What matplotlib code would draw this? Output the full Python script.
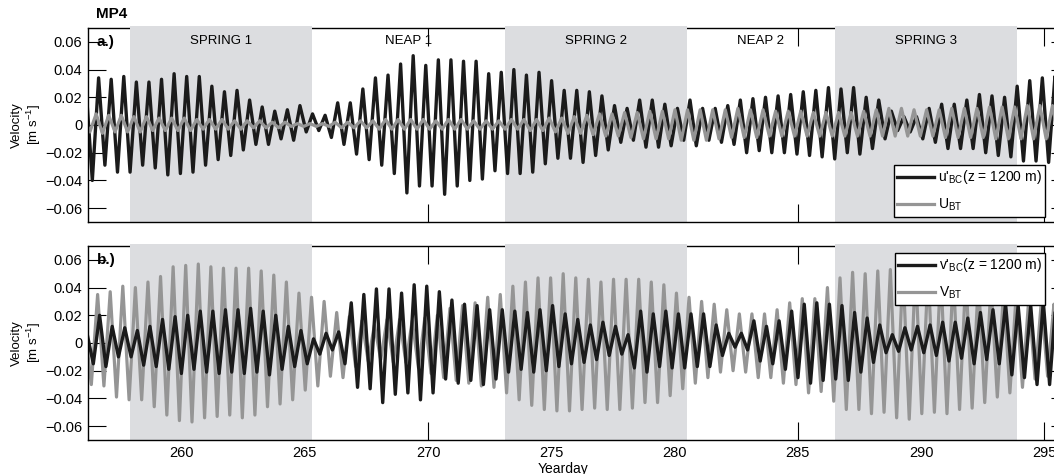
import matplotlib
matplotlib.use('Agg')
import matplotlib.pyplot as plt

plt.rcParams['font.family'] = ['Liberation Sans', 'DejaVu Sans']
plt.rcParams['mathtext.fontset'] = 'custom'
plt.rcParams['mathtext.rm'] = 'Liberation Sans'
plt.rcParams['mathtext.it'] = 'Liberation Sans:italic'

# semidiurnal carrier, in days; one peak and one trough per cycle
PERIOD = 0.5105

# spring / neap periods (yearday)
spring_start = [257.9, 273.1, 286.5]
spring_end = [265.3, 280.5, 293.9]
spring_names = ['SPRING 1', 'SPRING 2', 'SPRING 3']
neap_names = ['NEAP 1', 'NEAP 2']

xticks = [260, 265, 270, 275, 280, 285, 290, 295]
yticks = [-0.06, -0.04, -0.02, 0, 0.02, 0.04, 0.06]
ytick_labels = ['\u22120.06', '\u22120.04', '\u22120.02', '0', '0.02', '0.04', '0.06']

# a.) u'_BC (z = 1200 m), first peak time and per-cycle extremes [m/s]
t0_u_bc = 256.12
u_bc_peaks = [
    0.027, 0.034, 0.033, 0.035, 0.031, 0.031, 0.033, 0.037, 0.035, 0.035,
    0.028, 0.024, 0.025, 0.018, 0.013, 0.010, 0.011, 0.014, 0.008, 0.007,
    0.016, 0.016, 0.026, 0.034, 0.036, 0.044, 0.050, 0.043, 0.047, 0.047,
    0.046, 0.046, 0.037, 0.038, 0.040, 0.036, 0.038, 0.032, 0.025, 0.025,
    0.024, 0.021, 0.014, 0.012, 0.018, 0.018, 0.015, 0.012, 0.018, 0.012,
    0.012, 0.014, 0.018, 0.019, 0.020, 0.021, 0.022, 0.024, 0.025, 0.027,
    0.026, 0.027, 0.020, 0.018, 0.010, 0.006, 0.006, 0.012, 0.015, 0.015,
    0.018, 0.022, 0.021, 0.020, 0.028, 0.032, 0.034, 0.035]
u_bc_troughs = [
    -0.040, -0.029, -0.034, -0.034, -0.029, -0.031, -0.036, -0.035, -0.034, -0.029,
    -0.025, -0.022, -0.018, -0.014, -0.014, -0.010, -0.011, -0.005, -0.004, -0.009,
    -0.014, -0.021, -0.025, -0.029, -0.035, -0.049, -0.044, -0.044, -0.050, -0.044,
    -0.040, -0.039, -0.033, -0.035, -0.035, -0.034, -0.028, -0.024, -0.024, -0.027,
    -0.022, -0.018, -0.0125, -0.011, -0.016, -0.016, -0.015, -0.011, -0.015, -0.011,
    -0.0125, -0.014, -0.020, -0.0185, -0.020, -0.020, -0.021, -0.022, -0.023, -0.0245,
    -0.020, -0.021, -0.017, -0.010, -0.004, -0.005, -0.010, -0.0125, -0.017, -0.017,
    -0.017, -0.020, -0.022, -0.023, -0.026, -0.026, -0.027, -0.030]

# a.) U_BT
t0_u_bt = 256.02
u_bt_peaks = [
    0.006, 0.008, 0.007, 0.007, 0.006, 0.006, 0.005, 0.005, 0.005, 0.004,
    0.004, 0.004, 0.003, 0.003, 0.003, 0.002, 0.002, 0.001, 0.001, 0.001,
    0.002, 0.002, 0.003, 0.003, 0.004, 0.004, 0.004, 0.004, 0.003, 0.004,
    0.004, 0.003, 0.003, 0.003, 0.004, 0.004, 0.004, 0.005, 0.005, 0.006,
    0.007, 0.008, 0.008, 0.009, 0.009, 0.010, 0.010, 0.011, 0.011, 0.011,
    0.011, 0.011, 0.012, 0.011, 0.011, 0.010, 0.010, 0.010, 0.009, 0.009,
    0.009, 0.009, 0.010, 0.011, 0.012, 0.012, 0.011, 0.011, 0.011, 0.012,
    0.012, 0.012, 0.013, 0.013, 0.013, 0.014, 0.014, 0.014]
u_bt_troughs = [
    -0.005, -0.006, -0.005, -0.005, -0.005, -0.004, -0.004, -0.004, -0.004, -0.003,
    -0.003, -0.003, -0.003, -0.002, -0.002, -0.002, -0.001, -0.001, -0.001, -0.001,
    -0.002, -0.002, -0.002, -0.003, -0.003, -0.003, -0.003, -0.003, -0.003, -0.003,
    -0.003, -0.003, -0.003, -0.003, -0.003, -0.004, -0.004, -0.005, -0.006, -0.006,
    -0.007, -0.008, -0.008, -0.009, -0.010, -0.010, -0.010, -0.011, -0.011, -0.011,
    -0.010, -0.009, -0.009, -0.009, -0.008, -0.008, -0.008, -0.008, -0.008, -0.008,
    -0.008, -0.008, -0.008, -0.008, -0.008, -0.008, -0.008, -0.008, -0.009, -0.009,
    -0.009, -0.009, -0.010, -0.010, -0.010, -0.010, -0.010, -0.010]

# b.) v'_BC (z = 1200 m)
t0_v_bc = 256.16
v_bc_peaks = [
    0.007, 0.020, 0.012, 0.011, 0.009, 0.012, 0.017, 0.019, 0.020, 0.023,
    0.023, 0.024, 0.024, 0.025, 0.023, 0.020, 0.012, 0.009, 0.003, 0.007,
    0.008, 0.029, 0.035, 0.039, 0.039, 0.036, 0.042, 0.041, 0.037, 0.031,
    0.028, 0.027, 0.024, 0.024, 0.023, 0.022, 0.024, 0.027, 0.021, 0.017,
    0.013, 0.015, 0.012, 0.006, 0.023, 0.021, 0.023, 0.021, 0.021, 0.021,
    0.013, 0.007, 0.007, 0.016, 0.012, 0.016, 0.023, 0.028, 0.029, 0.028,
    0.027, 0.022, 0.018, 0.013, 0.006, 0.011, 0.012, 0.013, 0.015, 0.015,
    0.018, 0.022, 0.024, 0.028, 0.027, 0.027, 0.030, 0.030]
v_bc_troughs = [
    -0.015, -0.017, -0.010, -0.010, -0.016, -0.017, -0.019, -0.022, -0.019, -0.021,
    -0.022, -0.021, -0.022, -0.021, -0.023, -0.019, -0.017, -0.015, -0.008, -0.005,
    -0.015, -0.032, -0.033, -0.043, -0.037, -0.036, -0.041, -0.036, -0.026, -0.029,
    -0.027, -0.030, -0.026, -0.021, -0.019, -0.021, -0.020, -0.017, -0.015, -0.014,
    -0.012, -0.009, -0.008, -0.018, -0.021, -0.017, -0.018, -0.018, -0.017, -0.017,
    -0.009, -0.003, -0.005, -0.013, -0.015, -0.019, -0.025, -0.029, -0.027, -0.026,
    -0.027, -0.021, -0.014, -0.007, -0.006, -0.005, -0.007, -0.009, -0.013, -0.011,
    -0.015, -0.012, -0.015, -0.023, -0.025, -0.030, -0.030, -0.030]

# b.) V_BT
t0_v_bt = 256.08
v_bt_peaks = [
    0.010, 0.035, 0.037, 0.041, 0.040, 0.044, 0.048, 0.055, 0.056, 0.057,
    0.055, 0.054, 0.054, 0.054, 0.052, 0.049, 0.044, 0.036, 0.033, 0.030,
    0.022, 0.019, 0.016, 0.013, 0.017, 0.017, 0.016, 0.018, 0.020, 0.025,
    0.027, 0.029, 0.033, 0.035, 0.041, 0.044, 0.047, 0.047, 0.050, 0.047,
    0.046, 0.044, 0.046, 0.046, 0.046, 0.044, 0.042, 0.036, 0.033, 0.030,
    0.028, 0.024, 0.021, 0.021, 0.021, 0.024, 0.029, 0.032, 0.032, 0.040,
    0.047, 0.051, 0.050, 0.052, 0.053, 0.054, 0.054, 0.053, 0.052, 0.050,
    0.048, 0.046, 0.042, 0.038, 0.035, 0.032, 0.030, 0.028]
v_bt_troughs = [
    -0.030, -0.031, -0.039, -0.041, -0.041, -0.046, -0.052, -0.056, -0.057, -0.054,
    -0.053, -0.052, -0.054, -0.052, -0.046, -0.044, -0.041, -0.034, -0.031, -0.024,
    -0.025, -0.017, -0.013, -0.012, -0.014, -0.014, -0.018, -0.022, -0.025, -0.027,
    -0.029, -0.031, -0.032, -0.036, -0.041, -0.045, -0.048, -0.049, -0.049, -0.048,
    -0.047, -0.048, -0.048, -0.047, -0.043, -0.043, -0.038, -0.033, -0.029, -0.025,
    -0.021, -0.020, -0.021, -0.025, -0.025, -0.029, -0.030, -0.036, -0.035, -0.042,
    -0.048, -0.048, -0.051, -0.050, -0.054, -0.055, -0.051, -0.050, -0.051, -0.048,
    -0.047, -0.043, -0.039, -0.036, -0.032, -0.026, -0.024, -0.024]

BLACK = '#1b1b1b'
GREY = '#959595'
SHADE = '#dcdde0'


def extremes_to_line(t0, peaks, troughs):
    # one peak then one trough per semidiurnal cycle
    t, v = [], []
    for k in range(len(peaks)):
        t += [t0 + k * PERIOD, t0 + (k + 0.5) * PERIOD]
        v += [peaks[k], troughs[k]]
    return t, v


def setup_axes(ax):
    ax.set_xlim(256.2, 296.0)
    ax.set_ylim(-0.07, 0.07)
    ax.set_xticks(xticks)
    ax.set_yticks(yticks, ytick_labels)
    ax.set_axisbelow(True)
    ax.tick_params(direction='in', length=13, width=0.8, top=True, right=True,
                   labelsize=10.5, pad=4)
    for side in ax.spines:
        ax.spines[side].set_linewidth(1.0)
    ax.spines['top'].set_zorder(0.6)
    for s0, s1 in zip(spring_start, spring_end):
        ax.axvspan(s0, s1, ymin=0, ymax=1.012, color=SHADE, lw=0, zorder=1, clip_on=False)
    ax.set_ylabel('Velocity\n[m s$^{-1}$]', fontsize=9.5, linespacing=1.15)
    ax.yaxis.set_label_coords(-0.046, 0.5)


fig = plt.figure(figsize=(10.54, 4.74), dpi=100)
left = 88 / 1054
width = 981 / 1054
height = 194 / 474
ax_a = fig.add_axes([left, 1 - 222 / 474, width, height])
ax_b = fig.add_axes([left, 1 - 440 / 474, width, height])

# ---- a.) east-west
setup_axes(ax_a)
ax_a.tick_params(labelbottom=False)
t, v = extremes_to_line(t0_u_bc, u_bc_peaks, u_bc_troughs)
l1, = ax_a.plot(t, v, color=BLACK, lw=2.4, zorder=2, solid_joinstyle='round',
                label="u'$_{\\mathrm{BC}}$(z = 1200 m)")
t, v = extremes_to_line(t0_u_bt, u_bt_peaks, u_bt_troughs)
l2, = ax_a.plot(t, v, color=GREY, lw=2.3, zorder=2.1, solid_joinstyle='round',
                label='U$_{\\mathrm{BT}}$')

for name, s0, s1 in zip(spring_names, spring_start, spring_end):
    ax_a.text((s0 + s1) / 2, 0.0605, name, ha='center', va='center', fontsize=9.5, zorder=3)
for k, name in enumerate(neap_names):
    ax_a.text((spring_end[k] + spring_start[k + 1]) / 2, 0.0605, name,
              ha='center', va='center', fontsize=9.5, zorder=0.4)

ax_a.text(0.009, 0.06, 'a.)', transform=ax_a.get_yaxis_transform(),
          fontsize=11, fontweight='bold', va='center')
fig.text(96 / 1054, 1 - 14 / 474, 'MP4', fontsize=11, fontweight='bold', va='center')

leg_kw = dict(loc='upper left', bbox_transform=fig.transFigure, fontsize=10,
              frameon=True, fancybox=False, edgecolor='k', framealpha=1,
              handlelength=2.6, handletextpad=0.3, borderpad=0.25,
              labelspacing=0.75, borderaxespad=0)
leg = ax_a.legend(handles=[l1, l2], bbox_to_anchor=(894 / 1054, 1 - 165 / 474), **leg_kw)
leg.get_frame().set_linewidth(1.0)
leg.set_zorder(5)

# ---- b.) north-south
setup_axes(ax_b)
t, v = extremes_to_line(t0_v_bt, v_bt_peaks, v_bt_troughs)
l4, = ax_b.plot(t, v, color=GREY, lw=2.3, zorder=2, solid_joinstyle='round',
                label='V$_{\\mathrm{BT}}$')
t, v = extremes_to_line(t0_v_bc, v_bc_peaks, v_bc_troughs)
l3, = ax_b.plot(t, v, color=BLACK, lw=2.4, zorder=2.1, solid_joinstyle='round',
                label="v'$_{\\mathrm{BC}}$(z = 1200 m)")
ax_b.text(0.009, 0.06, 'b.)', transform=ax_b.get_yaxis_transform(),
          fontsize=11, fontweight='bold', va='center')
leg = ax_b.legend(handles=[l3, l4], bbox_to_anchor=(895 / 1054, 1 - 253 / 474), **leg_kw)
leg.get_frame().set_linewidth(1.0)
leg.set_zorder(5)

ax_b.set_xlabel('Yearday', fontsize=10)
ax_b.xaxis.set_label_coords((563 - 88) / 981, -0.112)

fig.savefig('out.png', dpi=100)
